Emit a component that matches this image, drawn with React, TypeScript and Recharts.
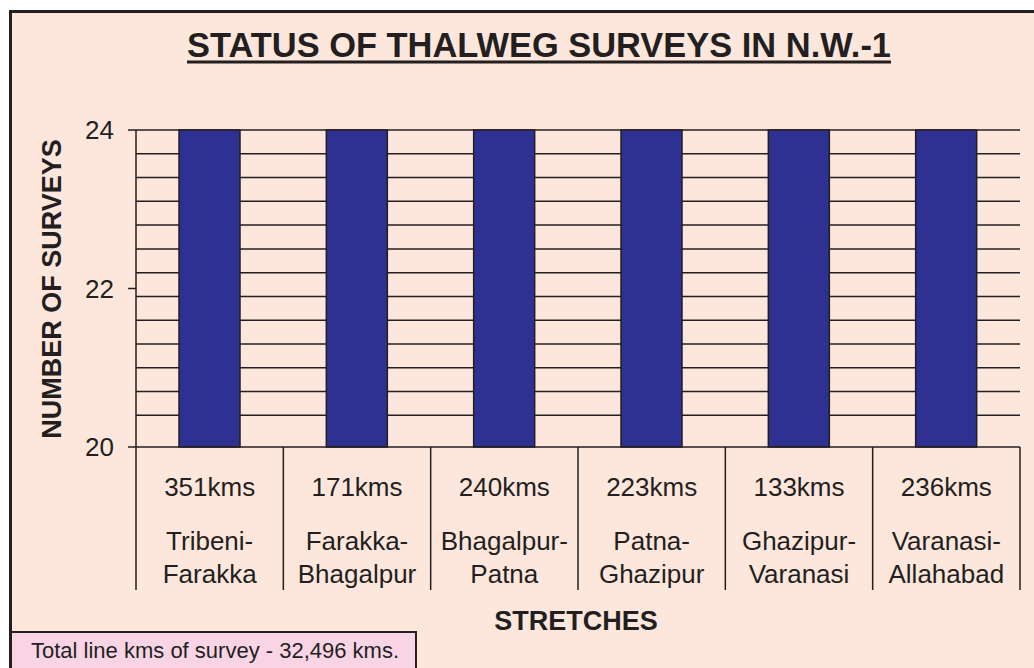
import { BarChart, Bar, XAxis, YAxis, CartesianGrid } from "recharts";

const kms = ["351kms", "171kms", "240kms", "223kms", "133kms", "236kms"];
const stretchFrom = ["Tribeni-", "Farakka-", "Bhagalpur-", "Patna-", "Ghazipur-", "Varanasi-"];
const stretchTo = ["Farakka", "Bhagalpur", "Patna", "Ghazipur", "Varanasi", "Allahabad"];
const surveys = [24, 24, 24, 24, 24, 24];
const yTicks = [20, 22, 24];
const gridTicks = [20.4, 20.7, 21, 21.3, 21.6, 21.9, 22.2, 22.5, 22.8, 23.1, 23.4, 23.7, 24];

const data = kms.map((k, i) => ({
  kms: k,
  from: stretchFrom[i],
  to: stretchTo[i],
  surveys: surveys[i],
}));

const INK = "#231f20";
const FONT = "'Liberation Sans', Arial, sans-serif";
const PLOT_W = 884;

function StretchTick(props: any) {
  const { x, y, payload } = props;
  const i = kms.indexOf(payload.value);
  const cw = PLOT_W / kms.length;
  const last = i === kms.length - 1;
  return (
    <g>
      <line x1={x - cw / 2} x2={x - cw / 2} y1={y} y2={y + 143} stroke={INK} strokeWidth={1.5} />
      {last && (
        <line x1={x + cw / 2} x2={x + cw / 2} y1={y} y2={y + 143} stroke={INK} strokeWidth={1.5} />
      )}
      <text x={x} y={y + 49} textAnchor="middle" fontSize={26} fill={INK} fontFamily={FONT}>
        {kms[i]}
      </text>
      <text x={x} y={y + 103} textAnchor="middle" fontSize={26} fill={INK} fontFamily={FONT}>
        {stretchFrom[i]}
      </text>
      <text x={x} y={y + 136} textAnchor="middle" fontSize={26} fill={INK} fontFamily={FONT}>
        {stretchTo[i]}
      </text>
    </g>
  );
}

export default function App() {
  return (
    <div
      style={{
        position: "absolute",
        left: 0,
        top: 0,
        width: 1034,
        height: 668,
        background: "#ffffff",
        overflow: "hidden",
        fontFamily: FONT,
      }}
    >
      <div
        style={{
          position: "absolute",
          left: 9,
          top: 10,
          width: 1040,
          height: 680,
          background: "#fde6dc",
          borderTop: `3px solid ${INK}`,
          borderLeft: `3px solid ${INK}`,
        }}
      />
      <svg width={1034} height={668} style={{ position: "absolute", left: 0, top: 0 }}>
        <text
          x={187}
          y={57}
          fontSize={35}
          fontWeight="bold"
          fill={INK}
          fontFamily={FONT}
          textLength={704}
          lengthAdjust="spacingAndGlyphs"
        >
          STATUS OF THALWEG SURVEYS IN N.W.-1
        </text>
        <line x1={187} x2={891} y1={62} y2={62} stroke={INK} strokeWidth={3} />
        <text
          x={0}
          y={0}
          transform="translate(61 289) rotate(-90)"
          textAnchor="middle"
          fontSize={27}
          fontWeight="bold"
          fill={INK}
          fontFamily={FONT}
        >
          NUMBER OF SURVEYS
        </text>
        <text x={576} y={630} textAnchor="middle" fontSize={27} fontWeight="bold" fill={INK} fontFamily={FONT}>
          STRETCHES
        </text>
      </svg>
      <div style={{ position: "absolute", left: 0, top: 0 }}>
        <BarChart
          width={1034}
          height={668}
          data={data}
          margin={{ top: 130, right: 14, left: 0, bottom: 0 }}
        >
          <CartesianGrid
            yAxisId="main"
            vertical={false}
            stroke={INK}
            strokeWidth={1.5}
            horizontalValues={gridTicks}
          />
          <YAxis
            yAxisId="main"
            width={136}
            domain={[20, 24]}
            ticks={yTicks}
            type="number"
            tickSize={8}
            tickMargin={14}
            axisLine={{ stroke: INK, strokeWidth: 1.5 }}
            tickLine={{ stroke: INK, strokeWidth: 1.5 }}
            tick={{ fill: INK, fontSize: 26, fontFamily: FONT }}
          />
          <XAxis
            dataKey="kms"
            height={221}
            tickSize={0}
            tickMargin={0}
            interval={0}
            axisLine={{ stroke: INK, strokeWidth: 1.5 }}
            tick={<StretchTick />}
          />
          <Bar
            yAxisId="main"
            dataKey="surveys"
            fill="#2e3192"
            stroke={INK}
            strokeWidth={1.5}
            barSize={61}
            isAnimationActive={false}
          />
        </BarChart>
      </div>
      <div
        style={{
          position: "absolute",
          left: 9,
          top: 631,
          width: 408,
          height: 50,
          background: "#f8d4e5",
          border: `2px solid ${INK}`,
          borderLeftWidth: 3,
          boxSizing: "border-box",
        }}
      >
        <div
          style={{
            position: "absolute",
            left: 19,
            top: 5,
            fontSize: 22,
            color: INK,
            whiteSpace: "nowrap",
            lineHeight: "26px",
          }}
        >
          Total line kms of survey - 32,496 kms.
        </div>
      </div>
    </div>
  );
}
